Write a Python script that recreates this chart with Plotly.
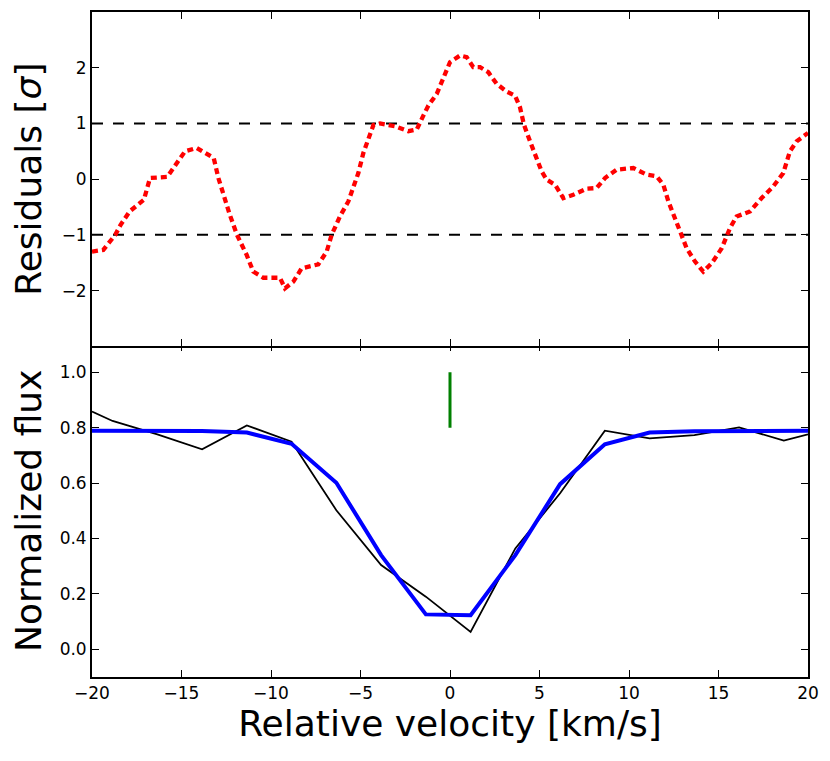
import plotly.graph_objects as go

# residuals of the fit, in units of sigma
vel_res = [-20, -19.37, -18.7, -18.4, -17.9, -17.1, -16.76, -15.8, -15.45, -14.8,
           -14.15, -13.2, -12.94, -12.66, -12.3, -11.9, -11.36, -10.99, -10.43, -9.5,
           -9.22, -8.75, -8.29, -7.36, -6.89, -6.61, -6.15, -5.68, -5.4, -5.12,
           -4.84, -4.56, -4.28, -3.91, -3.07, -2.33, -1.86, -1.49, -1.21, -0.74,
           -0.37, 0.0, 0.56, 0.93, 1.3, 1.68, 2.14, 2.61, 3.17, 3.63,
           3.91, 4.13, 4.47, 4.84, 5.12, 5.4, 5.87, 6.33, 6.89, 7.64,
           8.19, 8.66, 9.31, 10.24, 10.99, 11.55, 11.92, 12.2, 12.48, 12.85,
           13.22, 13.69, 14.15, 14.62, 15.18, 15.64, 16.01, 16.76, 17.41, 18.06,
           18.62, 18.99, 19.37, 20.0]
residuals = [-1.30, -1.27, -1.0, -0.82, -0.58, -0.37, 0.02, 0.04, 0.2, 0.5,
             0.56, 0.38, 0.02, -0.28, -0.64, -1.0, -1.36, -1.66, -1.77, -1.77,
             -1.96, -1.84, -1.6, -1.53, -1.3, -1.0, -0.67, -0.4, -0.16, 0.11,
             0.47, 0.74, 0.97, 1.0, 0.95, 0.86, 0.89, 1.14, 1.32, 1.53,
             1.83, 2.10, 2.22, 2.19, 2.01, 2.01, 1.92, 1.71, 1.57, 1.50,
             1.29, 0.98, 0.68, 0.38, 0.14, -0.01, -0.10, -0.34, -0.28, -0.17,
             -0.16, 0.02, 0.17, 0.20, 0.08, 0.05, -0.10, -0.40, -0.64, -0.94,
             -1.24, -1.48, -1.66, -1.51, -1.24, -0.88, -0.67, -0.58, -0.34, -0.13,
             0.11, 0.50, 0.68, 0.83]
sigma_levels = [-1, 1]

# observed spectrum and model
vel = [-20, -18.85, -16.35, -13.85, -11.35, -8.85, -6.35, -3.85, -1.35,
       1.15, 3.65, 6.15, 8.65, 11.15, 13.65, 16.15, 18.65, 20]
flux_obs = [0.858, 0.824, 0.776, 0.722, 0.808, 0.749, 0.502, 0.304, 0.190,
            0.063, 0.364, 0.563, 0.789, 0.761, 0.773, 0.801, 0.753, 0.776]
flux_model = [0.789, 0.789, 0.789, 0.788, 0.782, 0.742, 0.601, 0.340, 0.126,
              0.123, 0.340, 0.596, 0.740, 0.782, 0.787, 0.789, 0.789, 0.789]

# line centre marker
v_center = 0.0
marker_span = [0.8, 1.0]

x_range = [-20, 20]
x_ticks = [-20, -15, -10, -5, 0, 5, 10, 15, 20]

fig = go.Figure()

for lev in sigma_levels:
    fig.add_trace(go.Scatter(x=x_range, y=[lev, lev], mode="lines",
                             line=dict(color="black", width=2, dash="11px,10px"),
                             xaxis="x2", yaxis="y", showlegend=False))

fig.add_trace(go.Scatter(x=vel_res, y=residuals, mode="lines",
                         line=dict(color="#ff0000", width=4.3, dash="6px,4px"),
                         xaxis="x2", yaxis="y", showlegend=False))

fig.add_trace(go.Scatter(x=vel, y=flux_obs, mode="lines",
                         line=dict(color="black", width=1.8),
                         xaxis="x", yaxis="y2", showlegend=False))
fig.add_trace(go.Scatter(x=vel, y=flux_model, mode="lines",
                         line=dict(color="#0000ff", width=4),
                         xaxis="x", yaxis="y2", showlegend=False))
fig.add_trace(go.Scatter(x=[v_center, v_center], y=marker_span, mode="lines",
                         line=dict(color="#008000", width=3),
                         xaxis="x", yaxis="y2", showlegend=False))

axis_style = dict(showline=True, linecolor="black", linewidth=1.8, mirror="ticks",
                  ticks="inside", ticklen=7, tickwidth=1.3, tickcolor="black",
                  showgrid=False, zeroline=False, automargin=False,
                  tickfont=dict(family="DejaVu Sans", size=17, color="black"))

# panels share the boundary line, so let them overlap by about one line width
split = 0.5
overlap = 0.0027

# the page body adds an 8px offset, margins are set to compensate
fig.update_layout(
    width=830, height=761,
    margin=dict(l=84, r=30, t=4, b=92),
    paper_bgcolor="white", plot_bgcolor="white",
    font=dict(family="DejaVu Sans", color="black"),
    xaxis=dict(domain=[0, 1], anchor="y2", range=x_range, tickvals=x_ticks,
               title=dict(text="Relative velocity [km/s]",
                          font=dict(size=36), standoff=5),
               **axis_style),
    xaxis2=dict(domain=[0, 1], anchor="y", matches="x", range=x_range,
                tickvals=x_ticks, showticklabels=False, **axis_style),
    yaxis=dict(domain=[split - overlap, 1], anchor="x2", range=[-3, 3],
               tickvals=[-2, -1, 0, 1, 2],
               title=dict(text="Residuals [<i>σ</i>]", font=dict(size=36), standoff=10),
               **axis_style),
    yaxis2=dict(domain=[0, split], anchor="x", range=[-0.1, 1.1],
                tickvals=[0, 0.2, 0.4, 0.6, 0.8, 1.0], tickformat=".1f",
                title=dict(text="Normalized flux", font=dict(size=36), standoff=8),
                **axis_style),
)

fig.write_html("out.html")
